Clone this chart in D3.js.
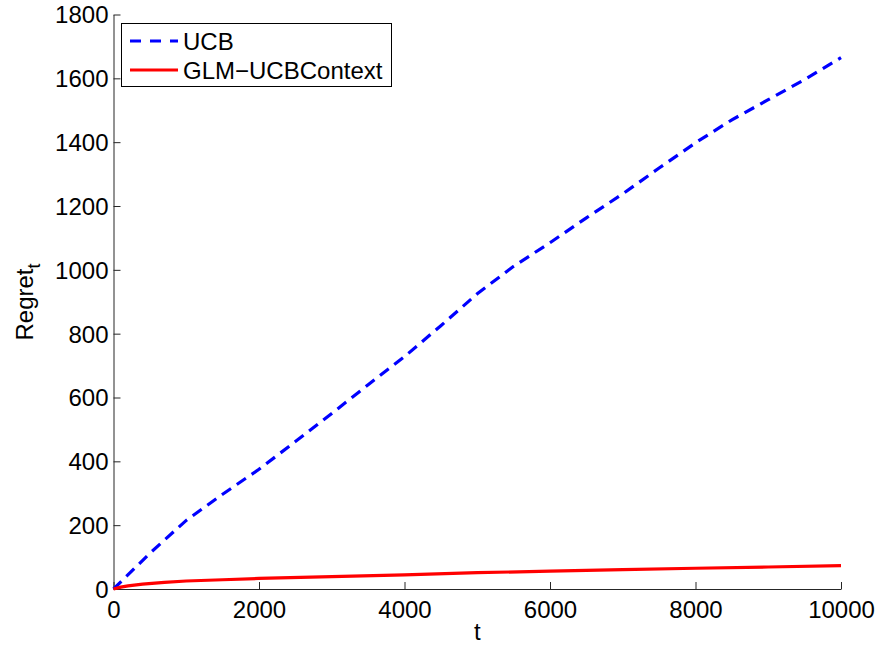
<!DOCTYPE html>
<html><head><meta charset="utf-8">
<script src="https://cdn.jsdelivr.net/npm/d3@7"></script>
<style>body{margin:0;background:#fff}text{font-family:"Liberation Sans",Arial,sans-serif}</style>
</head><body><svg id="c" width="877" height="646"></svg>
<script>
const ucbT = [0,500,1000,1500,2000,2500,3000,3500,4000,4500,5000,5500,6000,6500,7000,7500,8000,8500,9000,9500,10000];
const ucbV = [0,112,215,297,375,462,550,640,728,825,925,1011,1085,1163,1238,1319,1398,1470,1533,1596,1665];
const glmT = [0,100,200,400,700,1000,1500,2000,3000,4000,5000,6000,7000,8000,9000,10000];
const glmV = [0,6,10,15,21,25,29,33,39,44,51,56,61,65,69,73];
const xTicks = [0,2000,4000,6000,8000,10000];
const yTicks = [0,200,400,600,800,1000,1200,1400,1600,1800];
const seriesNames = ["UCB","GLM\u2212UCBContext"];

const svg = d3.select("#c");
const x = d3.scaleLinear().domain([0,10000]).range([113.5,841]);
const y = d3.scaleLinear().domain([0,1800]).range([589,14.5]);
const fs = 24;
const axisCol = "#262626";

const gx = svg.append("g").attr("transform","translate(0,589)")
  .call(d3.axisBottom(x).tickValues(xTicks).tickSizeInner(-7).tickSizeOuter(0).tickFormat(d3.format("d")));
const gy = svg.append("g").attr("transform","translate(113.5,0)")
  .call(d3.axisLeft(y).tickValues(yTicks).tickSizeInner(-7).tickSizeOuter(0).tickFormat(d3.format("d")));
[gx,gy].forEach(g=>{
  g.select(".domain").attr("stroke",axisCol).attr("stroke-width",1);
  g.selectAll(".tick line").attr("stroke",axisCol);
  g.selectAll("text").attr("fill","#000").style("font-size",fs+"px").style("font-family","Liberation Sans, Arial, sans-serif");
});
gx.selectAll("text").attr("y",12).attr("dy","0.71em");
gy.selectAll("text").attr("x",-5).attr("dy","0.35em");

const line = d3.line().x(d=>x(d[0])).y(d=>y(d[1]));
svg.append("path").datum(ucbT.map((t,i)=>[t,ucbV[i]]))
  .attr("d",line).attr("fill","none").attr("stroke","#0000ff").attr("stroke-width",3.2)
  .attr("stroke-dasharray","11,7");
svg.append("path").datum(glmT.map((t,i)=>[t,glmV[i]]))
  .attr("d",line).attr("fill","none").attr("stroke","#ff0000").attr("stroke-width",3.2);

svg.append("text").attr("x",x(5000)).attr("y",640).attr("text-anchor","middle")
  .style("font-size",fs+"px").text("t");
const yl = svg.append("text").attr("transform","translate(33,302) rotate(-90)").attr("text-anchor","middle")
  .style("font-size",fs+"px");
yl.append("tspan").text("Regret");
yl.append("tspan").attr("dy",7).style("font-size","18px").text("t");

const lg = svg.append("g");
lg.append("rect").attr("x",121.5).attr("y",23.5).attr("width",270).attr("height",63)
  .attr("fill","#fff").attr("stroke","#000").attr("stroke-width",1);
const legY = [41,70];
const legCol = ["#0000ff","#ff0000"];
const legDash = ["11,9",null];
seriesNames.forEach((n,i)=>{
  lg.append("line").attr("x1",130).attr("x2",178).attr("y1",legY[i]).attr("y2",legY[i])
    .attr("stroke",legCol[i]).attr("stroke-width",3.2).attr("stroke-dasharray",legDash[i]);
  lg.append("text").attr("x",183).attr("y",legY[i]+8.5).style("font-size",fs+"px").text(n);
});
</script></body></html>
